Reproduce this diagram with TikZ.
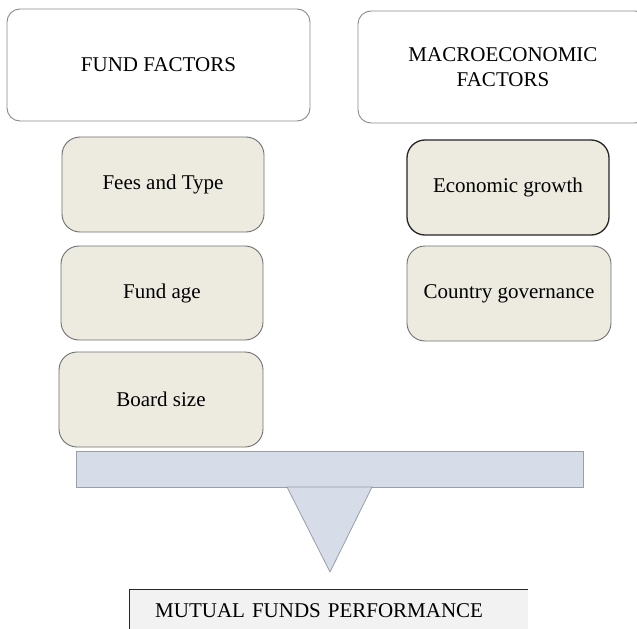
\documentclass[tikz,border=0pt]{standalone}
\usepackage{fontspec}
\setmainfont{Liberation Serif}
\definecolor{boxfill}{HTML}{EDEBE0}
\definecolor{boxline}{HTML}{707070}
\definecolor{headline}{HTML}{8A8A8A}
\definecolor{barfill}{HTML}{D6DCE8}
\definecolor{barline}{HTML}{9A9EA6}
\definecolor{perffill}{HTML}{F2F2F2}
\begin{document}
\begin{tikzpicture}[x=1bp,y=-1bp,
  every node/.style={font=\fontsize{21bp}{25bp}\selectfont, inner sep=0pt, align=center},
  headbox/.style={draw=headline, line width=0.9bp, rounded corners=13bp, fill=white},
  factbox/.style={draw=boxline, line width=0.9bp, rounded corners=18bp, fill=boxfill},
  darkbox/.style={draw=black!85, line width=1.3bp, rounded corners=18bp, fill=boxfill},
  shape fill/.style={fill=barfill, draw=barline, line width=0.8bp}]
\useasboundingbox (0,0) rectangle (637,629);
\clip (0,0) rectangle (637,629);
\fill[white] (0,0) rectangle (637,629);
% header boxes
\node[headbox, minimum width=303bp, minimum height=112bp] (fund) at (158.5,65) {FUND FACTORS};
\node[headbox, minimum width=290bp, minimum height=112bp] (macro) at (503,67) {MACROECONOMIC\\FACTORS};
% fund factor boxes
\node[factbox, minimum width=202bp, minimum height=95bp] (fees) at (163,184.5) {Fees and Type};
\node[factbox, minimum width=202bp, minimum height=94bp] (age) at (162,293) {Fund age};
\node[factbox, minimum width=204bp, minimum height=95bp] (board) at (161,399.5) {Board size};
% macro factor boxes
\node[darkbox, minimum width=202bp, minimum height=95bp] (econ) at (508,187.5) {Economic growth};
\node[factbox, minimum width=204bp, minimum height=95bp] (gov) at (509,293.5) {Country governance};
% balance bar and pointer
\draw[shape fill] (76,451) rectangle (583,487);
\draw[shape fill, line join=round] (287,487) -- (372,487) -- (330,572) -- cycle;
% performance box
\node[fill=perffill, anchor=north west, inner xsep=26bp, text width=347bp, align=left,
      minimum height=43bp] (perf) at (129,589) {MUTUAL FUNDS PERFORMANCE};
\draw[black!85, line width=1bp] (perf.south west) -- (perf.north west) -- (perf.north east);
\end{tikzpicture}
\end{document}
